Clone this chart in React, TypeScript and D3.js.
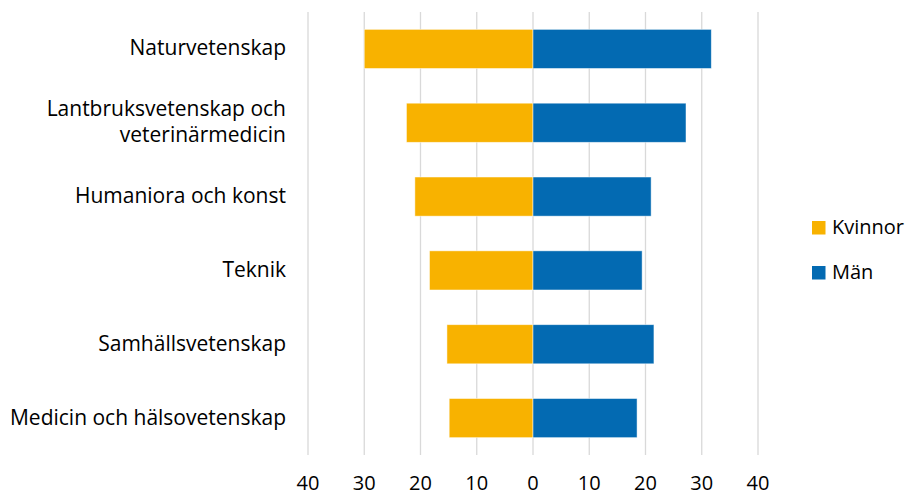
import React from "react";
import * as d3 from "d3";

const categories = [
  ["Naturvetenskap"],
  ["Lantbruksvetenskap och", "veterinärmedicin"],
  ["Humaniora och konst"],
  ["Teknik"],
  ["Samhällsvetenskap"],
  ["Medicin och hälsovetenskap"],
];
const kvinnor = [30.0, 22.5, 21.0, 18.4, 15.3, 14.9];
const man = [31.7, 27.2, 21.0, 19.4, 21.5, 18.5];
const ticks = [-40, -30, -20, -10, 0, 10, 20, 30, 40];
const seriesNames = ["Kvinnor", "Män"];
const colors = ["#F8B200", "#036AB2"];

const W = 905;
const H = 496;
const FONT = "'Open Sans', sans-serif";

export default function App() {
  const x = d3.scaleLinear().domain([-40, 40]).range([308, 758]);
  const y = d3
    .scaleBand<number>()
    .domain(d3.range(categories.length))
    .range([12, 455])
    .paddingInner(0.47)
    .paddingOuter(0.235);
  const bh = y.bandwidth();
  return (
    <svg
      width={W}
      height={H}
      style={{ position: "absolute", left: 0, top: 0, background: "#fff" }}
      fontFamily={FONT}
    >
      {ticks.map((t) => (
        <line
          key={"g" + t}
          x1={x(t)}
          x2={x(t)}
          y1={12}
          y2={455}
          stroke="#D9D9D9"
          strokeWidth={1.3}
        />
      ))}
      {categories.map((c, i) => (
        <g key={i}>
          <rect
            x={x(-kvinnor[i])}
            y={y(i)}
            width={x(0) - x(-kvinnor[i])}
            height={bh}
            fill={colors[0]}
            stroke="#fff"
            strokeOpacity={0.6}
            strokeWidth={0.8}
          />
          <rect
            x={x(0)}
            y={y(i)}
            width={x(man[i]) - x(0)}
            height={bh}
            fill={colors[1]}
            stroke="#fff"
            strokeOpacity={0.6}
            strokeWidth={0.8}
          />
          {c.map((line, j) => (
            <text
              key={j}
              x={286}
              y={(y(i) as number) + bh / 2 + 6.5 + (j - (c.length - 1) / 2) * 26.3}
              textAnchor="end"
              fontSize={21}
              fill="#000"
            >
              {line}
            </text>
          ))}
        </g>
      ))}
      {ticks.map((t) => (
        <text
          key={"t" + t}
          x={x(t)}
          y={490}
          textAnchor="middle"
          fontSize={20}
          fill="#000"
        >
          {Math.abs(t)}
        </text>
      ))}
      {seriesNames.map((s, i) => (
        <g key={s}>
          <rect x={812} y={221 + i * 45} width={13.5} height={13.5} fill={colors[i]} />
          <text x={832} y={233.5 + i * 45} fontSize={20} fill="#000">
            {s}
          </text>
        </g>
      ))}
    </svg>
  );
}
